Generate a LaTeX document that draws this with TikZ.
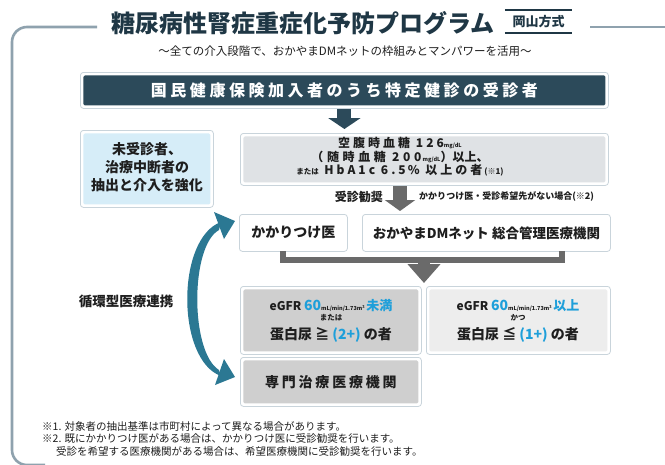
\documentclass[tikz,border=0pt]{standalone}
\usepackage{fontspec}
\setmainfont{Noto Sans CJK JP}
\usetikzlibrary{arrows.meta,calc}
\definecolor{darkc}{HTML}{2C4A5A}
\definecolor{titlec}{HTML}{1F3745}
\definecolor{framec}{HTML}{8FA2AE}
\definecolor{cardc}{HTML}{C9D4DB}
\definecolor{lblue}{HTML}{D6EDF8}
\definecolor{glcc}{HTML}{DFE2E5}
\definecolor{grayar}{HTML}{6A6A6A}
\definecolor{midgray}{HTML}{CFCFCF}
\definecolor{lgray}{HTML}{EDEDED}
\definecolor{bluet}{HTML}{1E9FDA}
\definecolor{tealc}{HTML}{2B7893}
\definecolor{textc}{HTML}{1E1E1E}
\newcommand\fsz[1]{\fontsize{#1}{#1}\selectfont}
\newcommand\lsp[1]{\addfontfeature{LetterSpace=#1}}
\begin{document}
\begin{tikzpicture}[x=1pt,y=-1pt,
  card/.style={draw=cardc, fill=white, line width=0.8pt, rounded corners=3pt, inner sep=0pt, anchor=north west},
  fillin/.style={inner sep=0pt, rounded corners=1.5pt},
  txt/.style={inner sep=0pt, text=textc, font=\bfseries},
  framel/.style={draw=framec, line width=2.6pt},
  grayarrow/.style={draw=grayar, line width=14pt, -{Triangle[width=30pt,length=11pt]}},
  darkarrow/.style={draw=darkc, line width=14pt, -{Triangle[width=32pt,length=11pt]}}
]
\useasboundingbox[fill=white] (0,0) rectangle (665,464);

% frame
\draw[framel, rounded corners=15pt] (97,27) -- (12,27) -- (12,465) -- (45,465);
\draw[framel] (590,27) -- (670,27);

% title
\node[txt, text=titlec, font=\fsz{24}\bfseries] (title) at (303,23) {糖尿病性腎症重症化予防プログラム};
\node[txt, text=titlec, font=\fsz{13}\bfseries, minimum width=67pt, minimum height=23pt] (hoshiki) at (538.5,21.5) {岡山方式};
\draw[titlec, line width=1.8pt] (hoshiki.north west) -- (hoshiki.north east);
\draw[titlec, line width=1.8pt] (hoshiki.south west) -- (hoshiki.south east);
\node[txt, font=\fsz{11.5}, text=textc] (sub) at (345,51) {～全ての介入段階で、おかやまDMネットの枠組みとマンパワーを活用～};

% banner
\node[card, minimum width=528pt, minimum height=36pt] (bannero) at (80,72) {};
\node[fillin, fill=darkc, minimum width=522pt, minimum height=30pt] (banner) at (bannero.center) {};
\node[txt, text=white, font=\fsz{16}\bfseries\lsp{22}] (bantext) at (banner.center) {国民健康保険加入者のうち特定健診の受診者};

% left light-blue box
\node[card, minimum width=133pt, minimum height=77pt] (lefto) at (80,130) {};
\node[fillin, fill=lblue, minimum width=127pt, minimum height=71pt] (lefti) at (lefto.center) {};
\node[txt, align=center, font=\fontsize{14}{18}\selectfont\bfseries] (lefttext) at (147,167) {未受診者、\\治療中断者の\\抽出と介入を強化};

% glucose box
\node[card, minimum width=368pt, minimum height=52pt] (glco) at (240,133) {};
\node[fillin, fill=glcc, minimum width=362pt, minimum height=46pt] (glci) at (glco.center) {};
\node[txt, align=center, font=\fontsize{12}{13.5}\selectfont\bfseries] (glctext) at (400,157)
 {{\lsp{25}空腹時血糖 126}{\fsz{5.5}mg/dL}\\
  {\lsp{30}（随時血糖 200}{\fsz{5.5} mg/dL}）以上、\\
  {\fsz{7.5}または}\ \ {\lsp{25}HbA1c 6.5\,\% 以上の者}\,{\fsz{8}(※1)}};

% dark arrow
\draw[darkarrow] (bannero.south) -- ($(bannero.south |- glco.north)+(0,-4)$);

% gray arrow with labels
\coordinate (ga) at (400,186);
\node[card, minimum width=108pt, minimum height=37pt] (kak) at (239,214) {};
\node[txt, font=\fsz{14}\bfseries] (kaktext) at (kak.center) {かかりつけ医};
\node[card, minimum width=248pt, minimum height=37pt] (oka) at (362,214) {};
\node[txt, font=\fsz{13.5}\bfseries] (okatext) at (oka.center) {おかやまDMネット 総合管理医療機関};
\draw[grayarrow] (ga) -- ($(ga |- kak.north)+(0,-3)$);
\node[txt, font=\fsz{12}\bfseries, anchor=east] (kanshou) at (383,197) {受診勧奨};
\node[txt, font=\fsz{9}\bfseries, anchor=west] (kanshou2) at (419,196.5) {かかりつけ医・受診希望先がない場合(※2)};

% bracket connector
\coordinate (b1) at (283,251);
\coordinate (b2) at (562,251);
\coordinate (bm) at (424,257);
\draw[grayar, line width=6pt] (b1) -- ($(b1)+(0,9)$) -| (b2);
\draw[draw=grayar, line width=12pt, -{Triangle[width=32pt,length=19pt]}] (bm) -- (424,283);

% eGFR boxes
\node[card, minimum width=181pt, minimum height=68pt] (e1) at (240,286) {};
\node[fillin, fill=midgray, minimum width=175pt, minimum height=62pt] (e1i) at (e1.center) {};
\node[card, minimum width=184pt, minimum height=68pt] (e2) at (426,286) {};
\node[fillin, fill=lgray, minimum width=178pt, minimum height=62pt] (e2i) at (e2.center) {};
\node[txt, anchor=base] (e1a) at (331,310) {{\fsz{12}eGFR }{\fsz{14}\color{bluet}60}{\fsz{5.5}mL/min/1.73m²}\,{\fsz{13}\color{bluet}未満}};
\node[txt, font=\fsz{7.5}\bfseries] (e1b) at (331,318) {または};
\node[txt, anchor=base] (e1c) at (331,339) {\fsz{14}蛋白尿 ≧ {\color{bluet}(2+)} の者};
\node[txt, anchor=base] (e2a) at (518,310) {{\fsz{12}eGFR }{\fsz{14}\color{bluet}60}{\fsz{5.5}mL/min/1.73m²}\,{\fsz{13}\color{bluet}以上}};
\node[txt, font=\fsz{7.5}\bfseries] (e2b) at (518,318) {かつ};
\node[txt, anchor=base] (e2c) at (518,339) {\fsz{14}蛋白尿 ≦ {\color{bluet}(1+)} の者};

% specialist box
\node[card, minimum width=181pt, minimum height=49pt] (sen) at (240,357) {};
\node[fillin, fill=midgray, minimum width=175pt, minimum height=43pt] (seni) at (sen.center) {};
\node[txt, font=\fsz{14}\bfseries\lsp{20}] (sentext) at (seni.center) {専門治療医療機関};

% circular cooperation
\node[txt, font=\fsz{13.5}\bfseries] (junkan) at (126,301) {循環型医療連携};
\fill[tealc] (221,222) .. controls (176,238) and (176,360) .. (221,376) -- (219,370) .. controls (190,352) and (190,246) .. (219,230) -- cycle;
\fill[tealc] (214,212) -- (235,221) -- (224,239) -- cycle;
\fill[tealc] (224,359) -- (235,377) -- (215,385) -- cycle;

% footnotes
\node[txt, font=\fsz{10.5}, anchor=west] (fn1) at (42,426) {※1. 対象者の抽出基準は市町村によって異なる場合があります。};
\node[txt, font=\fsz{10.5}, anchor=west] (fn2) at (42,438.5) {※2. 既にかかりつけ医がある場合は、かかりつけ医に受診勧奨を行います。};
\node[txt, font=\fsz{10.5}, anchor=west] (fn3) at (56,451) {受診を希望する医療機関がある場合は、希望医療機関に受診勧奨を行います。};
\end{tikzpicture}
\end{document}
